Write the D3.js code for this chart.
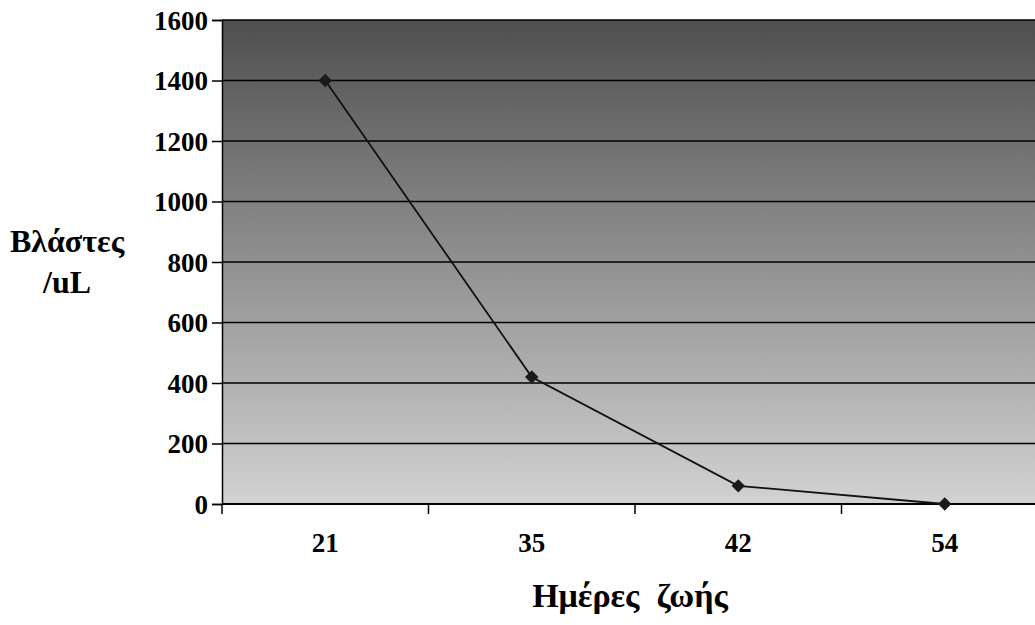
<!DOCTYPE html>
<html>
<head>
<meta charset="utf-8">
<script src="https://cdn.jsdelivr.net/npm/d3@7"></script>
<style>
  body { margin: 0; background: #fff; }
  svg { display: block; }
  text { font-family: "Liberation Serif", "Times New Roman", serif; font-weight: bold; fill: #000; }
</style>
</head>
<body>
<div id="chart"></div>
<script>
const days = ["21", "35", "42", "54"];
const blasts = [1400, 420, 60, 0];
const yTicks = [0, 200, 400, 600, 800, 1000, 1200, 1400, 1600];

const width = 1035, height = 625;
const plot = { left: 222, top: 20, right: 1048, bottom: 504 };

const svg = d3.select("#chart")
    .append("svg")
    .attr("width", width)
    .attr("height", height);

const x = d3.scaleBand()
    .domain(days)
    .range([plot.left, plot.right]);

const y = d3.scaleLinear()
    .domain([0, 1600])
    .range([plot.bottom, plot.top]);

// background gradient of the plot area
const grad = svg.append("defs").append("linearGradient")
    .attr("id", "bg")
    .attr("x1", 0).attr("y1", 0).attr("x2", 0).attr("y2", 1);
grad.append("stop").attr("offset", "0%").attr("stop-color", "#4f4f4f");
grad.append("stop").attr("offset", "100%").attr("stop-color", "#d2d2d2");

svg.append("rect")
    .attr("x", plot.left)
    .attr("y", plot.top)
    .attr("width", plot.right - plot.left)
    .attr("height", plot.bottom - plot.top)
    .attr("fill", "url(#bg)");

// gridlines
svg.append("g")
    .selectAll("line")
    .data(yTicks.filter(d => d > 0))
    .join("line")
    .attr("x1", plot.left)
    .attr("x2", plot.right)
    .attr("y1", d => y(d))
    .attr("y2", d => y(d))
    .attr("stroke", "#000")
    .attr("stroke-width", 1.5);

// y axis
const yAxis = svg.append("g")
    .attr("transform", `translate(${plot.left},0)`)
    .call(d3.axisLeft(y).tickValues(yTicks).tickFormat(d3.format("d")).tickSize(10).tickPadding(4));
yAxis.select(".domain").attr("stroke-width", 1.5);
yAxis.selectAll(".tick line").attr("stroke-width", 1.5);
yAxis.selectAll("text").style("font-size", "27px").attr("dy", "0.34em");

// x axis with ticks between categories
const xAxis = svg.append("g")
    .attr("transform", `translate(0,${plot.bottom})`)
    .call(d3.axisBottom(x).tickSize(0).tickPadding(29));
xAxis.select(".domain").attr("stroke-width", 2).attr("d", `M${plot.left},0H${plot.right}`);
xAxis.selectAll("text").style("font-size", "27px");
xAxis.append("g")
    .selectAll("line")
    .data(days)
    .join("line")
    .attr("x1", d => x(d))
    .attr("x2", d => x(d))
    .attr("y1", 0)
    .attr("y2", 10)
    .attr("stroke", "#000")
    .attr("stroke-width", 1.5);

// data line
const line = d3.line()
    .x((d, i) => x(days[i]) + x.bandwidth() / 2)
    .y(d => y(d));

svg.append("path")
    .datum(blasts)
    .attr("fill", "none")
    .attr("stroke", "#111")
    .attr("stroke-width", 1.8)
    .attr("d", line);

svg.append("g")
    .selectAll("path")
    .data(blasts)
    .join("path")
    .attr("d", d3.symbol(d3.symbolDiamond2, 115))
    .attr("transform", (d, i) => `translate(${x(days[i]) + x.bandwidth() / 2},${y(d)})`)
    .attr("fill", "#1a1a1a");

// axis titles
svg.append("text")
    .attr("x", 67)
    .attr("y", 252)
    .attr("text-anchor", "middle")
    .style("font-size", "32px")
    .text("Βλάστες");
svg.append("text")
    .attr("x", 67)
    .attr("y", 293)
    .attr("text-anchor", "middle")
    .style("font-size", "32px")
    .text("/uL");

svg.append("text")
    .attr("x", 630)
    .attr("y", 607)
    .attr("text-anchor", "middle")
    .style("font-size", "34px")
    .attr("xml:space", "preserve")
    .text("Ημέρες  ζωής");
</script>
</body>
</html>
